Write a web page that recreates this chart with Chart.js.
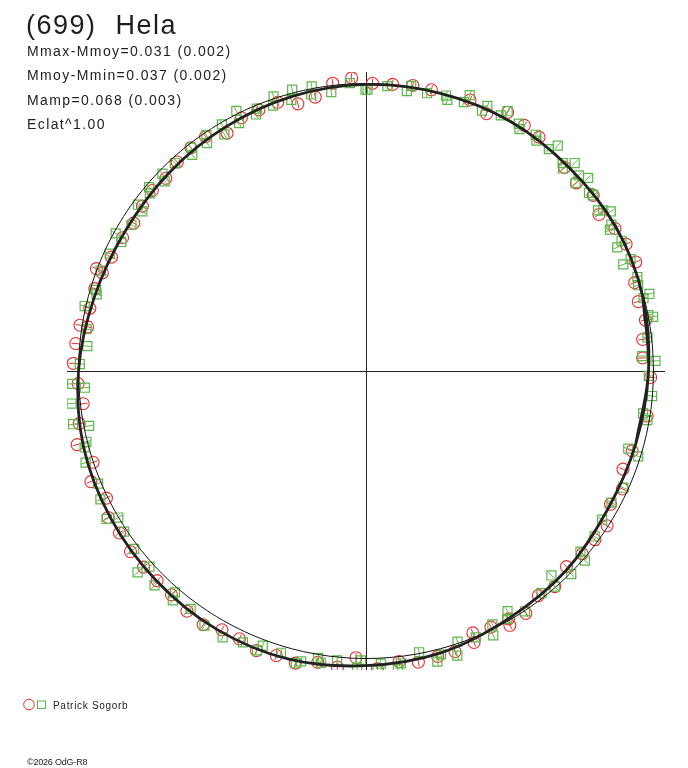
<!DOCTYPE html>
<html>
<head>
<meta charset="utf-8">
<script src="https://cdn.jsdelivr.net/npm/chart.js"></script>
<style>
  body { margin: 0; background: #fff; }
  #wrap { position: relative; width: 688px; height: 768px; font-family: Arial, "Liberation Sans", sans-serif; color: #222; }
  #wrap canvas { position: absolute; left: 0; top: 0; }
  .t { position: absolute; white-space: pre; }
  .stat { left: 27px; font-size: 14px; line-height: 14px; letter-spacing: 1.4px; }
</style>
</head>
<body>
<div id="wrap">
  <canvas id="polar" width="688" height="768"></canvas>
  <div class="t" style="left:26px;top:12px;font-size:27px;line-height:27px;letter-spacing:1.5px;word-spacing:10px;color:#1e1e1e">(699) Hela</div>
  <div class="t stat" style="top:44px">Mmax-Mmoy=0.031 (0.002)</div>
  <div class="t stat" style="top:68px">Mmoy-Mmin=0.037 (0.002)</div>
  <div class="t stat" style="top:93px">Mamp=0.068 (0.003)</div>
  <div class="t stat" style="top:117px">Eclat^1.00</div>
  <svg style="position:absolute;left:20px;top:697px" width="32" height="16">
    <circle cx="9" cy="7.5" r="5.3" fill="none" stroke="#e83030" stroke-width="1"/>
    <rect x="17.5" y="4" width="8" height="7.5" fill="none" stroke="#5cb84a" stroke-width="1"/>
  </svg>
  <div class="t" style="left:53px;top:701px;font-size:10px;line-height:10px;letter-spacing:0.7px">Patrick Sogorb</div>
  <div class="t" style="left:27px;top:758px;font-size:9px;line-height:9px;letter-spacing:-0.2px">©2026 OdG-R8</div>
</div>
<script>
// polar light curve: angle = rotation phase (deg), magnitude offset from the mean (mag)
const curveAngle = [0, 15, 30, 45, 60, 75, 90, 105, 120, 135, 150, 165,
                    180, 195, 210, 225, 240, 255, 270, 285, 300, 315, 330, 345];
const curveMag = [-0.016, -0.003, 0.003, 0.000, 0.003, 0.000, -0.003, -0.010, -0.019, -0.026, -0.029, -0.019,
                  0.000, 0.016, 0.023, 0.029, 0.035, 0.035, 0.023, 0.013, -0.006, -0.016, -0.029, -0.026];

const redAngle = [
  88.7, 84.7, 80.7, 76.9, 69.0, 64.9, 61.3, 57.2, 53.5, 45.7, 41.8, 37.7, 33.9, 29.8, 26.0, 22.0, 18.2, 14.3, 10.3, 6.5, 2.7,
  358.7, 350.9, 343.3, 339.1, 335.3, 331.4, 327.3, 323.6, 319.8, 315.7, 311.2, 307.5, 303.4, 299.5, 299.9, 296.0, 292.2, 291.7, 287.6, 284.1, 280.2, 276.5, 272.2,
  182.5, 186.6, 190.4, 194.3, 198.5, 201.9, 206.1, 209.6, 213.3, 217.5, 221.4, 225.1, 229.0, 233.3, 237.3, 240.9, 244.7, 248.6, 252.5, 256.4, 260.6, 264.5, 268.0,
  92.8, 96.6, 100.5, 104.3, 108.2, 112.3, 116.2, 120.3, 124.4, 128.1, 132.1, 136.1, 139.8, 143.6, 147.5, 151.3, 155.9, 159.2, 159.6, 163.1, 167.2, 170.9, 171.0, 174.6, 178.5
];
const redMag = [
  0.001, 0.001, 0.006, 0.004, 0.009, -0.011, 0.024, 0.015, 0.011, -0.010, -0.017, -0.001, -0.022, -0.002, 0.006, 0.011, -0.015, -0.021, -0.011, -0.029, -0.034,
  -0.009, -0.009, -0.031, -0.040, -0.017, -0.029, -0.003, -0.010, -0.014, -0.024, -0.003, -0.014, 0.009, 0.015, -0.005, -0.008, -0.015, 0.015, 0.022, 0.022, 0.027, 0.016, 0.034,
  0.002, -0.009, 0.013, 0.034, 0.001, 0.029, 0.005, 0.029, 0.024, 0.030, 0.029, 0.027, 0.029, 0.039, 0.045, 0.028, 0.028, 0.041, 0.035, 0.042, 0.025, 0.032, -0.002,
  0.019, 0.007, -0.029, -0.038, -0.015, -0.017, -0.017, -0.039, -0.011, -0.012, -0.019, -0.031, -0.025, -0.031, -0.039, -0.032, -0.028, 0.003, -0.020, -0.013, -0.014, 0.007, -0.018, 0.013, 0.017
];

const greenAngle = [
  89.7, 85.7, 81.7, 81.0, 77.6, 73.8, 73.3, 69.4, 70.0, 66.0, 65.4, 62.2, 61.4, 58.3, 57.6, 54.3, 53.5, 50.5, 49.6, 46.6, 45.8, 44.9, 42.6,
  41.9, 41.0, 38.6, 37.7, 34.7, 34.1, 33.1, 30.8, 30.1, 27.0, 26.2, 22.9, 22.5, 19.1, 17.5, 14.7, 15.2, 11.2, 10.7, 6.8, 3.1, 2.0,
  359.0, 355.0, 351.3, 350.1, 343.5, 342.6, 335.6, 331.8, 327.8, 324.1, 319.9, 319.1, 312.2, 315.3, 311.2, 308.3, 303.5, 300.5, 299.7, 296.5,
  295.7, 292.4, 288.7, 287.8, 284.8, 283.8, 280.7, 276.8, 276.1, 272.9, 272.2,
  182.5, 183.4, 186.3, 190.3, 191.2, 194.2, 195.2, 198.1, 202.8, 205.8, 209.7, 210.6, 213.6, 217.5, 221.4, 222.1, 225.4,
  229.2, 229.9, 233.6, 237.6, 241.7, 245.6, 249.4, 248.7, 253.2, 256.5, 257.4, 260.5, 261.2, 264.3, 268.3, 269.0,
  90.1, 93.2, 97.1, 100.8, 101.2, 104.7, 105.4, 108.6, 109.3, 112.6, 113.2, 116.5, 117.1, 120.3, 120.9, 124.1, 124.9, 128.1, 128.8,
  132.6, 135.9, 136.7, 139.7, 140.6, 143.9, 144.5, 148.1, 151.2, 152.2, 155.4, 159.3, 163.3, 164.1, 167.0, 171.5, 174.9, 178.6
];
const greenMag = [
  -0.020, -0.006, -0.015, 0.004, -0.010, -0.002, -0.014, 0.023, -0.004, -0.008, 0.013, 0.005, 0.027, 0.010, -0.003, 0.011, -0.003, 0.000, 0.027, -0.004, -0.016, 0.023, 0.005,
  -0.019, 0.022, -0.007, -0.001, -0.017, -0.003, 0.015, -0.006, -0.018, -0.002, -0.024, -0.001, -0.029, -0.001, -0.007, -0.002, 0.020, 0.001, 0.015, -0.013, -0.035, 0.007,
  -0.015, -0.001, -0.023, -0.006, -0.045, -0.007, -0.016, -0.029, -0.027, -0.017, -0.023, 0.007, -0.037, 0.004, -0.003, -0.014, 0.002, -0.028, -0.007, -0.014,
  0.019, 0.002, -0.006, 0.037, 0.018, 0.038, -0.004, 0.022, 0.039, 0.018, 0.039,
  0.021, -0.019, 0.028, 0.033, -0.017, 0.003, 0.013, 0.024, 0.010, 0.024, 0.036, 0.001, 0.009, 0.015, 0.055, 0.014, 0.044,
  0.016, 0.040, 0.026, 0.045, 0.048, 0.034, 0.019, 0.040, 0.022, 0.042, 0.032, 0.011, 0.025, 0.011, 0.030, 0.006,
  -0.020, 0.003, -0.021, 0.007, -0.018, 0.011, -0.020, 0.007, -0.020, -0.011, -0.027, 0.010, -0.029, -0.006, -0.038, -0.009, -0.031, -0.012, -0.033,
  -0.016, -0.013, -0.035, -0.010, -0.025, -0.017, -0.041, -0.036, -0.006, -0.035, -0.018, -0.012, -0.017, -0.024, 0.004, -0.016, -0.025, -0.004
];

const R0 = 1.0;    // radius of the mean magnitude
const K = 1.08;    // radius units per magnitude
const LIM = 1.04;  // half width of the axes

function toXY(a, m) {
  const r = R0 + K * m;
  const t = a * Math.PI / 180;
  return { x: r * Math.cos(t), y: r * Math.sin(t) };
}

const redPts = redAngle.map((a, i) => toXY(a, redMag[i]));
const greenPts = greenAngle.map((a, i) => toXY(a, greenMag[i]));

// closed fitted curve: wrap one point on each side so the spline closes smoothly
const n = curveAngle.length;
const curvePts = [];
for (let i = -1; i <= n + 1; i++) {
  const j = (i + n) % n;
  curvePts.push(toXY(curveAngle[j], curveMag[j]));
}

// mean level circle
const meanPts = [];
for (let a = 0; a <= 360; a += 5) meanPts.push(toXY(a, 0));

const axisGrid = {
  drawTicks: false,
  lineWidth: 1,
  color: ctx => (ctx.tick && Math.abs(ctx.tick.value) < 1e-9) ? '#222' : 'rgba(0,0,0,0)'
};

new Chart(document.getElementById('polar'), {
  type: 'scatter',
  data: {
    datasets: [
      {
        data: curvePts, showLine: true, pointRadius: 0, tension: 0.35,
        borderColor: '#222', borderWidth: 2.8, order: 0
      },
      {
        data: meanPts, showLine: true, pointRadius: 0, tension: 0.35,
        borderColor: '#111', borderWidth: 1, order: 1
      },
      {
        data: greenPts, pointStyle: 'line', pointRadius: 4.5,
        rotation: ctx => -greenAngle[ctx.dataIndex],
        borderColor: '#5cb84a', borderWidth: 1, order: 2
      },
      {
        data: greenPts, pointStyle: 'rect', pointRadius: 6.4,
        borderColor: '#5cb84a', backgroundColor: 'rgba(0,0,0,0)', borderWidth: 1.2, order: 3
      },
      {
        data: redPts, pointStyle: 'line', pointRadius: 4.5,
        rotation: ctx => -redAngle[ctx.dataIndex],
        borderColor: '#e83030', borderWidth: 1, order: 4
      },
      {
        data: redPts, pointStyle: 'circle', pointRadius: 6,
        borderColor: '#e83030', backgroundColor: 'rgba(0,0,0,0)', borderWidth: 1.1, order: 5
      }
    ]
  },
  options: {
    responsive: false,
    animation: false,
    devicePixelRatio: 1,
    layout: { padding: { left: 67, right: 23, top: 72, bottom: 98 } },
    plugins: { legend: { display: false }, tooltip: { enabled: false } },
    scales: {
      x: {
        type: 'linear', min: -LIM, max: LIM,
        afterBuildTicks: s => { s.ticks = [{ value: 0 }]; },
        ticks: { display: false },
        border: { display: false },
        grid: axisGrid
      },
      y: {
        type: 'linear', min: -LIM, max: LIM,
        afterBuildTicks: s => { s.ticks = [{ value: 0 }]; },
        ticks: { display: false },
        border: { display: false },
        grid: axisGrid
      }
    }
  }
});
</script>
</body>
</html>
